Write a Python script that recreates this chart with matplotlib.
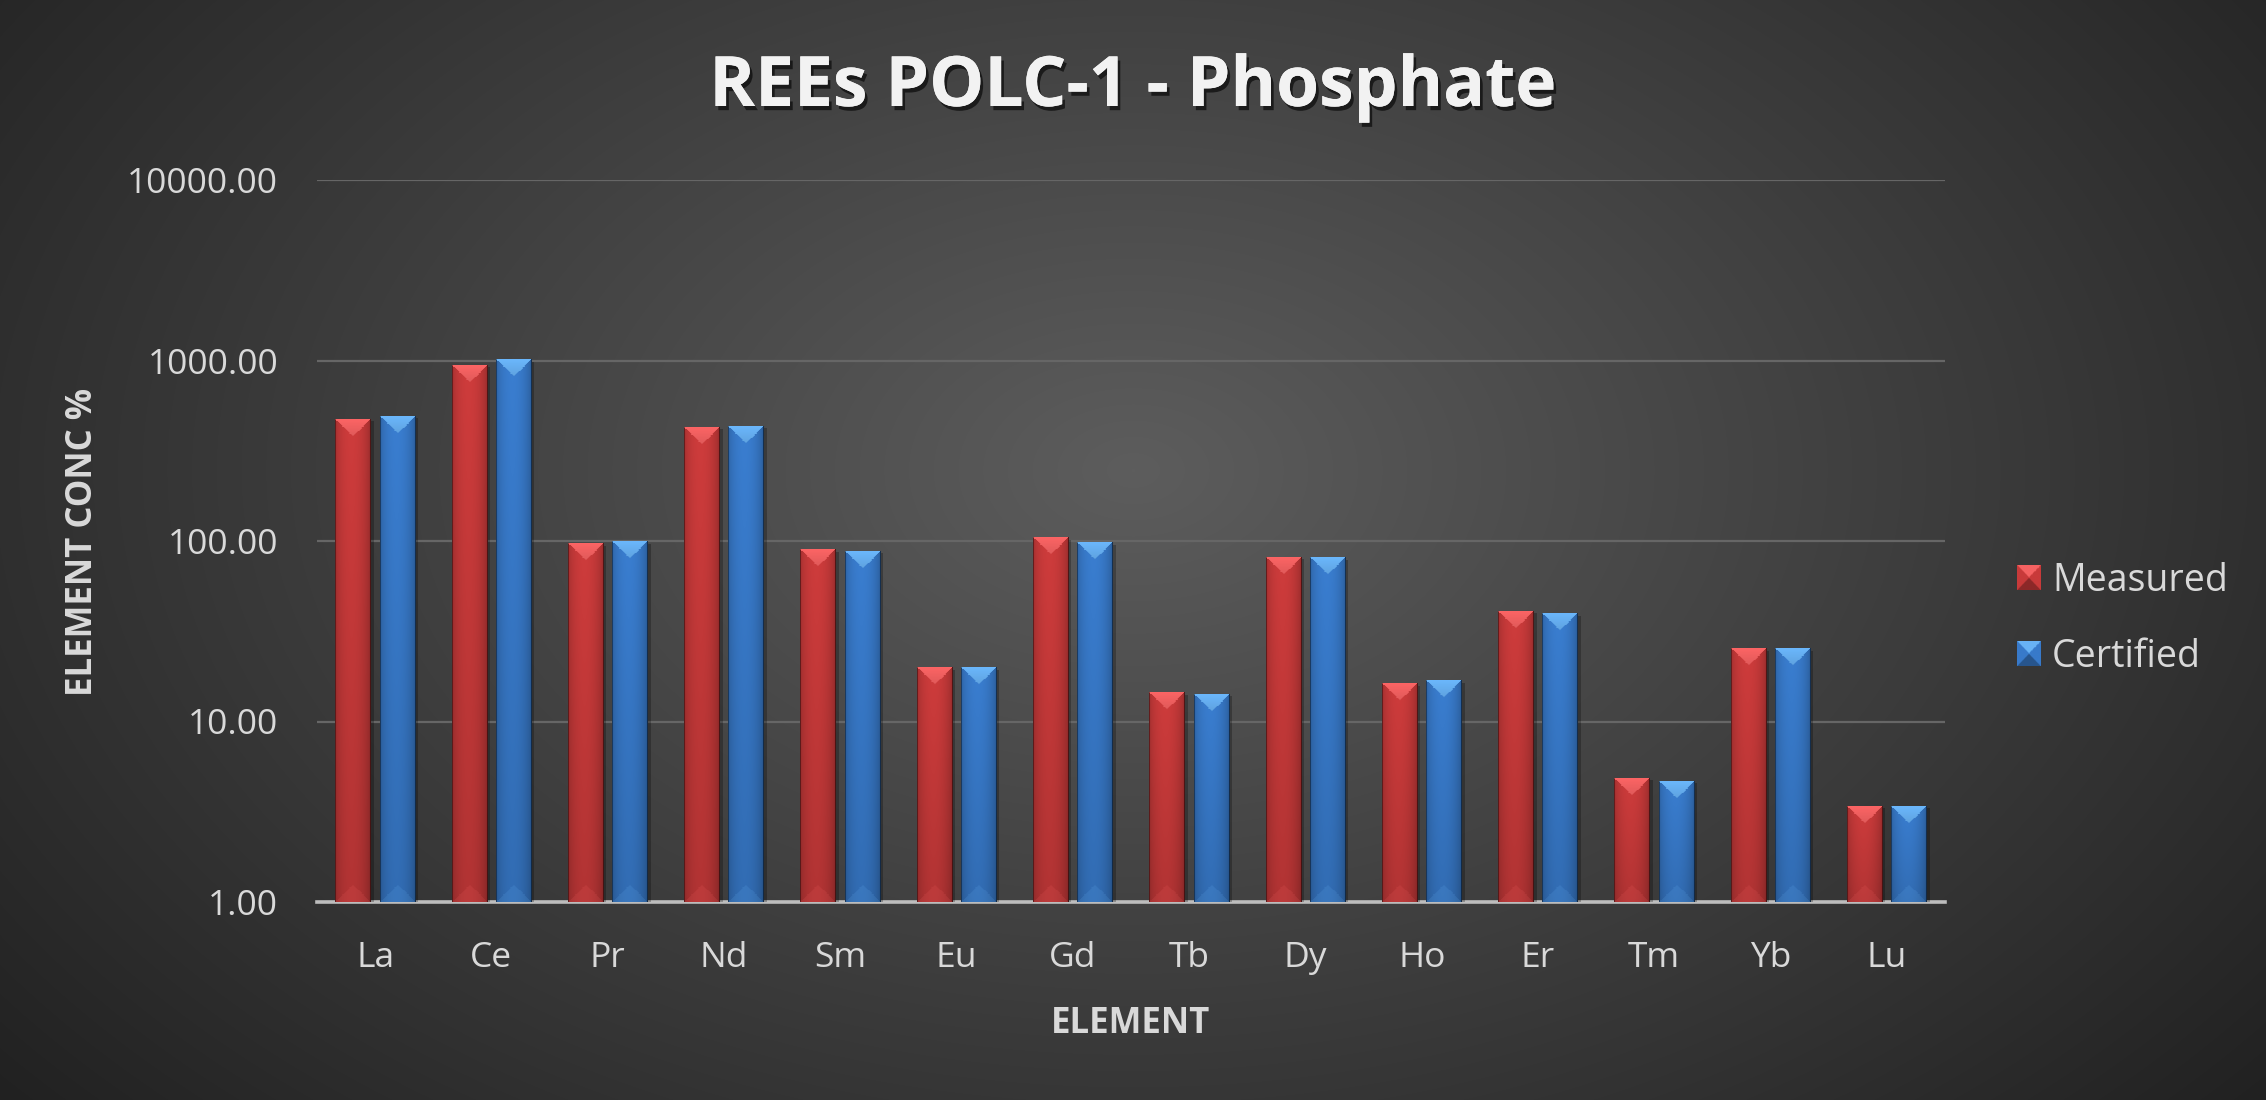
import matplotlib
matplotlib.use('Agg')
import matplotlib.pyplot as plt
import matplotlib.patheffects as pe
from matplotlib.patches import Patch
import numpy as np

# 数据：稀土元素测量值与标准值
elements = ['La', 'Ce', 'Pr', 'Nd', 'Sm', 'Eu', 'Gd', 'Tb', 'Dy', 'Ho', 'Er', 'Tm', 'Yb', 'Lu']
measured = [473, 942, 96.5, 426, 89.5, 19.8, 104, 14.4, 81.5, 16.2, 40.9, 4.85, 25.3, 3.4]
certified = [491, 1010, 99, 433, 88, 19.8, 97.5, 14.2, 80.9, 16.8, 39.5, 4.68, 25.3, 3.4]
series_names = ['Measured', 'Certified']
y_ticks = [1, 10, 100, 1000, 10000]
y_tick_labels = ['1.00', '10.00', '100.00', '1000.00', '10000.00']

W, H = 2266, 1100
FONT = 'Open Sans'
TXT = '#d9d9d9'
RED = np.array([200, 58, 58]) / 255
RED_TRI = np.array([245, 98, 98]) / 255
BLUE = np.array([56, 122, 202]) / 255
BLUE_TRI = np.array([104, 178, 245]) / 255


def bar_texture(w, h, base, tri):
    # 圆柱状明暗 + 顶部三角高光
    u = (np.arange(w) + 0.5) / w
    v = np.arange(h) + 0.5
    shade_x = 0.80 + 0.26 * np.sin(np.pi * u) ** 0.6 - 0.06 * u
    shade_y = 1.0 - 0.14 * (v / h)
    img = base[None, None, :] * shade_x[None, :, None] * shade_y[:, None, None]
    half = w / 2
    prof = half * (1 - np.abs(2 * u - 1))
    top = v[:, None] < prof[None, :]
    tri_col = tri[None, None, :] * (1.03 - 0.12 * (v[:, None, None] / half))
    img = np.where(top[:, :, None], np.broadcast_to(tri_col, img.shape), img)
    bot = (h - v)[:, None] < prof[None, :]
    img = np.where(bot[:, :, None], img * 0.85 + tri[None, None, :] * 0.15, img)
    img[:, 0, :] *= 0.6
    img[:, -1, :] *= 0.5
    return np.clip(img, 0, 1)


def square_texture(n, base, tri):
    # 图例方块：金字塔斜面
    c = (np.arange(n) + 0.5) / n
    xx, yy = np.meshgrid(c, c)
    img = np.broadcast_to(base, (n, n, 3)).copy()
    top = (yy < xx) & (yy < 1 - xx)
    bottom = (yy > xx) & (yy > 1 - xx)
    img[top] = tri
    img[bottom] = base * 0.7
    return np.clip(img, 0, 1)


fig = plt.figure(figsize=(W / 100, H / 100), dpi=100)

# 背景径向渐变
bg = fig.add_axes([0, 0, 1, 1], zorder=-10)
gx, gy = np.meshgrid(np.arange(W), np.arange(H))
r = np.sqrt(((gx - 1133) / 1450) ** 2 + ((gy - 470) / 950) ** 2)
g = np.clip(0.365 - 0.23 * r, 0.12, 1)
bg.imshow(np.dstack([g, g, g]), extent=(0, W, 0, H), aspect='auto')
bg.set_axis_off()

ax = fig.add_axes([317 / W, 1 - 902 / H, (1945 - 317) / W, (902 - 180) / H])
ax.patch.set_alpha(0)
x = np.arange(len(elements))
bw = 0.305
bars_m = ax.bar(x - 0.19, np.array(measured) - 1, bottom=1, width=bw, color=RED, zorder=3)
bars_c = ax.bar(x + 0.19, np.array(certified) - 1, bottom=1, width=bw, color=BLUE, zorder=3)
ax.set_yscale('log')
ax.set_ylim(1, 10000)
ax.set_xlim(-0.5, len(elements) - 0.5)
ax.set_yticks(y_ticks)
ax.set_yticklabels(y_tick_labels)
ax.minorticks_off()
ax.set_xticks(x)
ax.set_xticklabels(elements)
ax.tick_params(axis='both', length=0, labelsize=25.5, labelcolor=TXT)
ax.tick_params(axis='y', pad=28)
ax.tick_params(axis='x', pad=28)
for lab in ax.get_xticklabels() + ax.get_yticklabels():
    lab.set_fontfamily(FONT)
ax.yaxis.grid(True, color='#666666', linewidth=1.6, zorder=0)
ax.set_axisbelow(True)
for s in ['top', 'right', 'left']:
    ax.spines[s].set_visible(False)
ax.spines['bottom'].set_color('#bdbdbd')
ax.spines['bottom'].set_linewidth(2.6)
ax.spines['bottom'].set_zorder(2)

fig.text(0.5, 1 - 88 / H, 'REEs POLC-1 - Phosphate', ha='center', va='center', fontsize=50,
         fontweight='bold', family=FONT, color='#f2f2f2',
         path_effects=[pe.withSimplePatchShadow(offset=(2, -3), shadow_rgbFace='black', alpha=0.6), pe.Normal()])
fig.text(1131 / W, 1 - 1024 / H, 'ELEMENT', ha='center', va='center', fontsize=25,
         fontweight='bold', family=FONT, color=TXT)
fig.text(83 / W, 1 - 542 / H, 'ELEMENT CONC %', ha='center', va='center', rotation=90,
         fontsize=25, fontweight='bold', family=FONT, color=TXT)

handles = [Patch(facecolor=RED), Patch(facecolor=BLUE)]
leg = fig.legend(handles, series_names, loc='upper left', bbox_to_anchor=(2017 / W, 1 - 562 / H),
                 frameon=False, handlelength=0.62, handleheight=0.62,
                 handletextpad=0.32, labelspacing=1.02, borderpad=0, borderaxespad=0,
                 prop={'family': FONT, 'size': 27})
for t in leg.get_texts():
    t.set_color(TXT)
leg.set_zorder(5)

fig.canvas.draw()

# 叠加层：按像素绘制柱体纹理
ov = fig.add_axes([0, 0, 1, 1], zorder=10)
ov.patch.set_alpha(0)
ov.set_axis_off()
for bars, base, tri in [(bars_m, RED, RED_TRI), (bars_c, BLUE, BLUE_TRI)]:
    for b in bars:
        bb = b.get_window_extent()
        w = int(round(bb.width))
        h = int(round(bb.height))
        # 阴影
        ov.add_patch(plt.Rectangle((bb.x0 + 3, bb.y0), bb.width, bb.height - 2,
                                   color='black', alpha=0.25, lw=0))
        ov.imshow(bar_texture(w, h, base, tri), extent=(bb.x0, bb.x1, bb.y0, bb.y1),
                  aspect='auto', interpolation='bilinear', zorder=2)
for p, base, tri in zip(leg.get_patches(), [RED, BLUE], [RED_TRI, BLUE_TRI]):
    bb = p.get_window_extent()
    n = 40
    ov.imshow(square_texture(n, base, tri), extent=(bb.x0, bb.x1, bb.y0, bb.y1),
              aspect='auto', interpolation='bilinear', zorder=2)
ov.set_xlim(0, W)
ov.set_ylim(0, H)

fig.savefig('out.png', dpi=100)
